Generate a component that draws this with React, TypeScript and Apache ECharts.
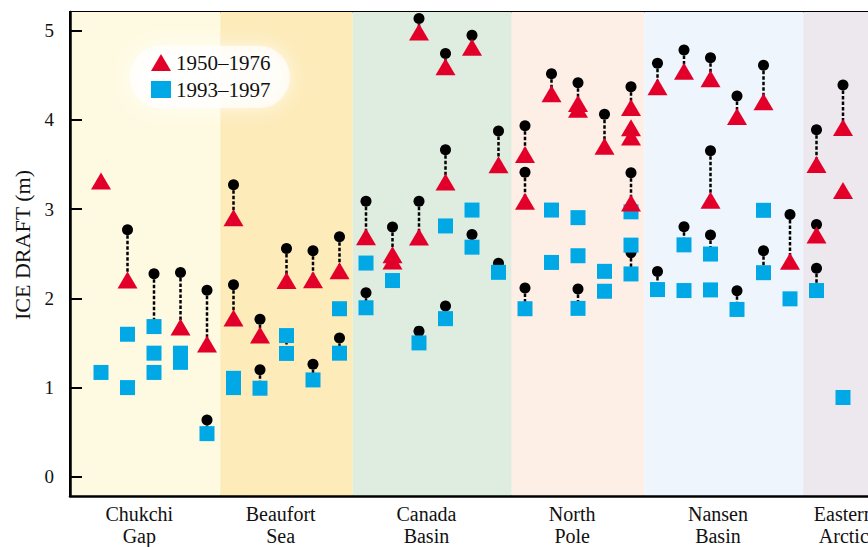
import React, { useEffect, useRef } from "react";
import * as echarts from "echarts";

// Regions (categories along the track)
const regionNames = ["Chukchi\nGap", "Beaufort\nSea", "Canada\nBasin", "North\nPole", "Nansen\nBasin", "Eastern\nArctic"];
const regionBounds = [-1.17, 4.5, 9.5, 15.5, 20.5, 26.5, 30];
const regionColors = ["#FEFAE2", "#FDEBBA", "#DEEDDF", "#FDEEE6", "#EFF5FC", "#EDE7EE"];

// Y axis ticks
const yTicks = [0, 1, 2, 3, 4, 5];
const Y_MIN = -0.215;
const Y_MAX = 5.21;

// [station slot, ice draft (m)]
const early1950_1976: [number, number][] = [
  [0, 3.315], [1, 2.205], [3, 1.678], [4, 1.49], [5, 2.903], [5, 1.78], [6, 1.589], [7, 2.2], [8, 2.208], [9, 2.31],
  [10, 2.69], [11, 2.49], [11, 2.418], [12, 4.985], [12, 2.687], [13, 4.597], [13, 3.304], [14, 4.816], [15, 3.497],
  [16, 3.612], [16, 3.088], [17, 4.295], [18, 4.185], [18, 4.12], [19, 3.705], [20, 4.139], [20, 3.912], [20, 3.808],
  [20, 3.068], [21, 4.371], [22, 4.545], [23, 4.462], [23, 3.099], [24, 4.039], [25, 4.204], [26, 2.416], [27, 3.5],
  [27, 2.71], [28, 3.916], [28, 3.21],
];

const late1993_1997: [number, number][] = [
  [0, 1.17], [1, 1.598], [1, 1.0], [2, 1.684], [2, 1.386], [2, 1.17], [3, 1.386], [3, 1.283], [4, 0.484], [5, 1.104],
  [5, 1.0], [6, 0.993], [7, 1.583], [7, 1.383], [8, 1.086], [9, 1.884], [9, 1.386], [10, 2.396], [10, 1.895], [11, 2.2],
  [12, 1.501], [13, 2.812], [13, 1.773], [14, 2.99], [14, 2.574], [15, 2.292], [16, 1.884], [17, 2.99], [17, 2.403],
  [18, 2.905], [18, 2.478], [18, 1.888], [19, 2.303], [19, 2.08], [20, 2.97], [20, 2.597], [20, 2.274], [21, 2.099],
  [22, 2.6], [22, 2.088], [23, 2.497], [23, 2.095], [24, 1.876], [25, 2.987], [25, 2.288], [26, 1.995], [27, 2.088],
  [28, 0.889],
];

const adjusted: [number, number][] = [
  [1, 2.77], [2, 2.275], [3, 2.29], [4, 2.09], [4, 0.638], [5, 3.274], [5, 2.153], [6, 1.767], [6, 1.199], [7, 2.558],
  [8, 2.535], [8, 1.262], [9, 2.69], [9, 1.556], [10, 3.088], [10, 2.064], [11, 2.8], [12, 5.137], [12, 3.088],
  [12, 1.633], [13, 4.744], [13, 3.667], [13, 1.915], [14, 4.948], [14, 2.717], [15, 3.875], [15, 2.394], [16, 3.934],
  [16, 3.415], [16, 2.116], [17, 4.518], [18, 4.417], [18, 2.105], [19, 4.065], [20, 4.373], [20, 3.408], [20, 2.513],
  [21, 4.636], [21, 2.302], [22, 4.785], [22, 2.803], [23, 4.696], [23, 3.656], [23, 2.71], [24, 4.268], [24, 2.086],
  [25, 4.614], [25, 2.535], [26, 2.94], [27, 3.89], [27, 2.828], [27, 2.338], [28, 4.391],
];

// [slot, upper value, lower value] dashed connectors
const links: [number, number, number][] = [
  [1, 2.77, 2.205], [2, 2.275, 1.684], [3, 2.29, 1.678], [4, 2.09, 1.49], [4, 0.638, 0.484], [5, 3.274, 2.903],
  [5, 2.153, 1.78], [6, 1.767, 1.589], [6, 1.199, 0.993], [7, 2.558, 2.2], [7, 1.583, 1.383], [8, 2.535, 2.208],
  [8, 1.262, 1.086], [9, 2.69, 2.31], [9, 1.556, 1.386], [10, 3.088, 2.69], [10, 2.064, 1.895], [11, 2.8, 2.49],
  [12, 5.137, 4.985], [12, 3.088, 2.687], [12, 1.633, 1.501], [13, 4.744, 4.597], [13, 3.667, 3.304],
  [13, 1.915, 1.773], [14, 4.948, 4.816], [14, 2.717, 2.574], [15, 3.875, 3.497], [15, 2.394, 2.292],
  [16, 3.934, 3.612], [16, 3.415, 3.088], [16, 2.116, 1.884], [17, 4.518, 4.295], [18, 4.417, 4.185],
  [18, 2.105, 1.888], [19, 4.065, 3.705], [20, 4.373, 4.139], [20, 3.408, 3.068], [20, 2.513, 2.274],
  [21, 4.636, 4.371], [21, 2.302, 2.099], [22, 4.785, 4.545], [22, 2.803, 2.6], [23, 4.696, 4.462],
  [23, 3.656, 3.099], [23, 2.71, 2.497], [24, 4.268, 4.039], [24, 2.086, 1.876], [25, 4.614, 4.204],
  [25, 2.535, 2.288], [26, 2.94, 2.416], [27, 3.89, 3.5], [27, 2.828, 2.71], [27, 2.338, 2.088], [28, 4.391, 3.916],
];

const FONT = '"Liberation Serif", "Times New Roman", serif';
const RED = "#E2002B";
const BLUE = "#00A8E6";

export default function App() {
  const ref = useRef<HTMLDivElement>(null);

  useEffect(() => {
    if (!ref.current) return;
    const chart = echarts.init(ref.current, null, { renderer: "svg" });

    const labelCenters = regionNames.map((_, i) => (regionBounds[i] + regionBounds[i + 1]) / 2 - 0.22);

    const linkData: any[] = [];
    links.forEach(([x, a, b]) => {
      linkData.push([x, a], [x, b], [x, "-"]);
    });

    const option: any = {
      animation: false,
      backgroundColor: "#ffffff",
      grid: {
        left: 70,
        right: 0,
        top: 12,
        bottom: 48,
        show: true,
        borderColor: "#000",
        borderWidth: 2,
        backgroundColor: "transparent",
      },
      legend: {
        orient: "vertical",
        left: 151,
        top: 52,
        padding: 0,
        itemWidth: 20,
        itemHeight: 17,
        itemGap: 6,
        textStyle: { fontFamily: FONT, fontSize: 21, color: "#111" },
        data: [
          { name: "1950–1976", icon: "triangle" },
          { name: "1993–1997", icon: "rect" },
        ],
      },
      xAxis: {
        type: "value",
        min: regionBounds[0],
        max: regionBounds[regionBounds.length - 1],
        splitLine: { show: false },
        axisTick: { show: false },
        axisLine: { show: true, onZero: false, lineStyle: { color: "#000", width: 2.5 } },
        axisLabel: {
          customValues: labelCenters,
          margin: 7,
          fontFamily: FONT,
          fontSize: 20,
          lineHeight: 22,
          color: "#111",
          align: "center",
          formatter: (v: number) => {
            const i = labelCenters.findIndex((c) => Math.abs(c - v) < 0.01);
            return i >= 0 ? regionNames[i] : "";
          },
        },
      },
      yAxis: {
        type: "value",
        min: Y_MIN,
        max: Y_MAX,
        splitLine: { show: false },
        axisLine: { show: true, onZero: false, lineStyle: { color: "#000", width: 2.5 } },
        axisTick: { show: true, customValues: yTicks, inside: true, length: 12, lineStyle: { color: "#000", width: 2 } },
        axisLabel: { customValues: yTicks, margin: 16, fontFamily: FONT, fontSize: 19, color: "#111" },
      },
      graphic: [
        {
          type: "rect",
          z: 1,
          silent: true,
          shape: { x: 130, y: 46, width: 160, height: 62, r: 31 },
          style: { fill: "rgba(255,255,255,0.72)", shadowBlur: 18, shadowColor: "rgba(255,255,255,1)" },
        },
        {
          type: "text",
          z: 1,
          x: 22,
          y: 245,
          rotation: Math.PI / 2,
          style: {
            text: "ICE DRAFT (m)",
            font: `22px ${FONT}`,
            fill: "#111",
            align: "center",
            verticalAlign: "middle",
          },
        },
      ],
      series: [
        {
          type: "custom",
          silent: true,
          z: 0,
          data: regionNames.map((_, i) => [regionBounds[i], regionBounds[i + 1], i]),
          encode: { x: [0, 1], y: 2 },
          renderItem: (_p: any, api: any) => {
            const x0 = api.value(0);
            const x1 = api.value(1);
            const idx = api.value(2);
            const p0 = api.coord([x0, Y_MAX]);
            const p1 = api.coord([x1, Y_MIN]);
            return {
              type: "rect",
              shape: { x: p0[0], y: p0[1], width: p1[0] - p0[0], height: p1[1] - p0[1] },
              style: { fill: regionColors[idx] },
            };
          },
        },
        {
          type: "line",
          name: "links",
          z: 2,
          silent: true,
          data: linkData,
          symbol: "none",
          connectNulls: false,
          lineStyle: { color: "#000", width: 2.5, type: [3.5, 2] },
        },
        {
          type: "scatter",
          name: "adjusted",
          z: 3,
          silent: true,
          data: adjusted,
          symbol: "circle",
          symbolSize: 11,
          itemStyle: { color: "#000", opacity: 1 },
        },
        {
          type: "scatter",
          name: "1993–1997",
          z: 4,
          silent: true,
          data: late1993_1997,
          symbol: "rect",
          symbolSize: 15,
          itemStyle: { color: BLUE, opacity: 1 },
        },
        {
          type: "scatter",
          name: "1950–1976",
          z: 5,
          silent: true,
          data: early1950_1976,
          symbol: "triangle",
          symbolSize: [20, 17],
          itemStyle: { color: RED, opacity: 1 },
        },
      ],
    };

    chart.setOption(option);
    return () => chart.dispose();
  }, []);

  return (
    <div style={{ position: "fixed", left: 0, top: 0, width: 868, height: 547, overflow: "hidden" }}>
      <div ref={ref} style={{ position: "absolute", left: 0, top: 0, width: 896, height: 547 }} />
    </div>
  );
}
